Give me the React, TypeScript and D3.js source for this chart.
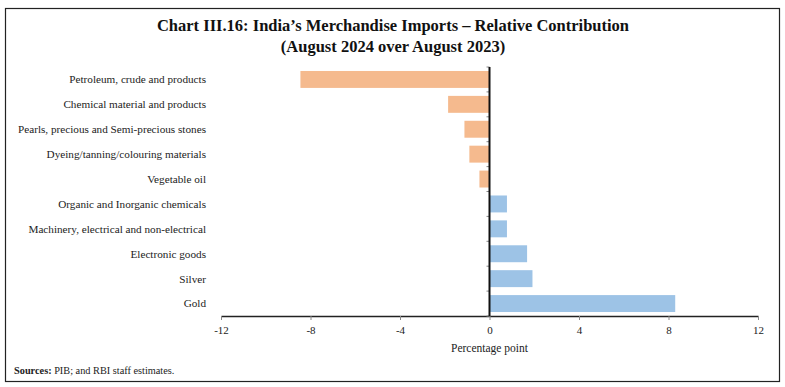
import React, { useEffect, useRef } from 'react';
import * as d3 from 'd3';

const categories = [
  'Petroleum, crude and products',
  'Chemical material and products',
  'Pearls, precious and Semi-precious stones',
  'Dyeing/tanning/colouring materials',
  'Vegetable oil',
  'Organic and Inorganic chemicals',
  'Machinery, electrical and non-electrical',
  'Electronic goods',
  'Silver',
  'Gold',
];
const values = [-8.45, -1.85, -1.12, -0.9, -0.45, 0.78, 0.78, 1.68, 1.92, 8.3];
const xTicks = [-12, -8, -4, 0, 4, 8, 12];

const W = 785;
const H = 387;
const serif = '"Liberation Serif", "DejaVu Serif", serif';

export default function App() {
  const ref = useRef<SVGSVGElement>(null);

  useEffect(() => {
    const svg = d3.select(ref.current);
    svg.selectAll('*').remove();

    const left = 221, right = 758, top = 67, bottom = 316;
    const x = d3.scaleLinear().domain([-12, 12]).range([left, right]);
    const y = d3.scaleBand<string>().domain(categories).range([top, bottom]).paddingInner(0.32).paddingOuter(0.16);

    // frame
    svg.append('rect')
      .attr('x', 5.5).attr('y', 8.5).attr('width', 774).attr('height', 373)
      .attr('fill', 'none').attr('stroke', '#222').attr('stroke-width', 1.2);

    // title
    const title = svg.append('text')
      .attr('text-anchor', 'middle')
      .attr('font-family', serif).attr('font-weight', 'bold').attr('font-size', 16.5)
      .attr('fill', '#111');
    title.append('tspan').attr('x', 393).attr('y', 31).text('Chart III.16: India\u2019s Merchandise Imports \u2013 Relative Contribution');
    title.append('tspan').attr('x', 393).attr('y', 52).text('(August 2024 over August 2023)');

    // bars
    svg.append('g').selectAll('rect')
      .data(categories)
      .enter().append('rect')
      .attr('x', (d, i) => x(Math.min(0, values[i])))
      .attr('y', d => y(d) as number)
      .attr('width', (d, i) => Math.abs(x(values[i]) - x(0)))
      .attr('height', y.bandwidth())
      .attr('fill', (d, i) => values[i] < 0 ? '#F5BA8E' : '#9DC3E6');

    // category labels
    svg.append('g').selectAll('text')
      .data(categories)
      .enter().append('text')
      .attr('x', 206)
      .attr('y', d => (y(d) as number) + y.bandwidth() / 2)
      .attr('dy', '0.35em')
      .attr('text-anchor', 'end')
      .attr('font-family', serif).attr('font-size', 11.2)
      .attr('fill', '#222')
      .text(d => d);

    // x axis
    const xAxis = svg.append('g')
      .attr('transform', `translate(0,${bottom})`)
      .call(d3.axisBottom(x).tickValues(xTicks).tickSize(4).tickSizeOuter(0).tickFormat(d => String(d)));
    xAxis.select('.domain').attr('stroke', '#222').attr('stroke-width', 1.3);
    xAxis.selectAll('.tick line').attr('stroke', '#888');
    xAxis.selectAll('.tick text')
      .attr('font-family', serif).attr('font-size', 11).attr('fill', '#222').attr('dy', '1.0em');

    // zero line with category ticks
    const boundaries = d3.range(categories.length + 1).map(i => top + i * (bottom - top) / categories.length);
    svg.append('g').selectAll('line')
      .data(boundaries)
      .enter().append('line')
      .attr('x1', x(0) - 3).attr('x2', x(0))
      .attr('y1', d => d).attr('y2', d => d)
      .attr('stroke', '#888');
    svg.append('line')
      .attr('x1', x(0)).attr('x2', x(0))
      .attr('y1', top).attr('y2', bottom)
      .attr('stroke', '#111').attr('stroke-width', 2);

    svg.append('text')
      .attr('x', x(0)).attr('y', 352)
      .attr('text-anchor', 'middle')
      .attr('font-family', serif).attr('font-size', 11.5).attr('fill', '#222')
      .text('Percentage point');

    const src = svg.append('text')
      .attr('x', 14).attr('y', 374)
      .attr('font-family', serif).attr('font-size', 10.3).attr('fill', '#222');
    src.append('tspan').attr('font-weight', 'bold').text('Sources:');
    src.append('tspan').text(' PIB; and RBI staff estimates.');
  }, []);

  return (
    <svg ref={ref} width={W} height={H} style={{ position: 'absolute', left: 0, top: 0, background: '#fff' }} />
  );
}
